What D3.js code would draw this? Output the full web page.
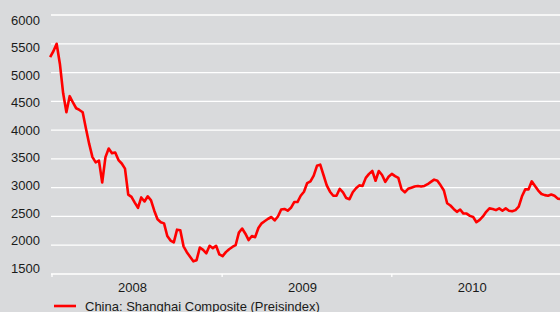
<!DOCTYPE html>
<html>
<head>
<meta charset="utf-8">
<script src="https://cdn.jsdelivr.net/npm/d3@7"></script>
<style>
  body { margin: 0; background: #d9dadc; }
  svg { display: block; font-family: "Liberation Sans", Arial, sans-serif; }
</style>
</head>
<body>
<script>
// weekly closes, first week ending 2007-12-28
var startDate = new Date(2007, 11, 28);
var values = [
  5270, 5370, 5500, 5150, 4640, 4310, 4590, 4480, 4380, 4350,
  4310, 4030, 3760, 3530, 3440, 3470, 3090, 3530, 3680, 3600,
  3610, 3480, 3420, 3330, 2880, 2840, 2740, 2650, 2830, 2760,
  2850, 2780, 2600, 2450, 2400, 2380, 2160, 2080, 2050, 2270,
  2260, 1980, 1880, 1800, 1720, 1740, 1960, 1920, 1860, 1990,
  1950, 1990, 1840, 1810, 1880, 1930, 1970, 2000, 2220, 2290,
  2200, 2090, 2160, 2140, 2300, 2380, 2420, 2460, 2490, 2430,
  2500, 2620, 2630, 2600, 2650, 2750, 2750, 2860, 2930, 3080,
  3110, 3210, 3380, 3400, 3220, 3040, 2930, 2860, 2860, 2980,
  2920, 2820, 2800, 2920, 2990, 3040, 3030, 3170, 3240, 3290,
  3120, 3290, 3220, 3100, 3190, 3240, 3200, 3170, 2970, 2920,
  2980, 3000, 3020, 3030, 3020, 3030, 3060, 3100, 3140, 3120,
  3040, 2950, 2730, 2690, 2630, 2580, 2620, 2550, 2550, 2510,
  2490, 2400, 2440, 2500, 2580, 2640, 2630, 2610, 2640, 2600,
  2640, 2600, 2590, 2610, 2670, 2850, 2970, 2970, 3110, 3030,
  2950, 2890, 2870, 2860, 2880, 2860, 2810, 2800
];
var yTicks = [1500, 2000, 2500, 3000, 3500, 4000, 4500, 5000, 5500, 6000];
var years = [2008, 2009, 2010];
var seriesName = "China: Shanghai Composite (Preisindex)";

var W = 560, H = 312;

var data = values.map(function(v, i) {
  return { date: d3.timeDay.offset(startDate, 7 * i), value: v };
});

var svg = d3.select("body").append("svg")
    .attr("width", W)
    .attr("height", H);

var xScale = d3.scaleTime()
    .domain([new Date(2008, 0, 1), new Date(2011, 0, 1)])
    .range([52, 561.5]);
var yScale = d3.scaleLinear()
    .domain([1500, 6000])
    .range([274, 15]);
// tick labels sit on a slightly tighter spacing than the grid
var yLabelScale = yScale.copy().range([268, 20]);

/*** gridlines ***/
svg.append("g")
  .selectAll("line")
  .data(yTicks)
  .enter().append("line")
    .attr("x1", 51)
    .attr("x2", W)
    .attr("y1", function(d) { return yScale(d); })
    .attr("y2", function(d) { return yScale(d); })
    .attr("stroke", "#ffffff")
    .attr("stroke-width", 1.3);

/*** year ticks on the baseline ***/
var yearStarts = years.map(function(y) { return new Date(y, 0, 1); });
svg.append("g")
  .selectAll("line")
  .data(yearStarts)
  .enter().append("line")
    .attr("x1", function(d) { return xScale(d); })
    .attr("x2", function(d) { return xScale(d); })
    .attr("y1", yScale(1500))
    .attr("y2", yScale(1500) + 3)
    .attr("stroke", "#ffffff")
    .attr("stroke-width", 1.3);

/*** y labels ***/
svg.append("g")
  .selectAll("text")
  .data(yTicks)
  .enter().append("text")
    .attr("x", 40)
    .attr("y", function(d) { return yLabelScale(d); })
    .attr("dy", "0.36em")
    .attr("text-anchor", "end")
    .attr("font-size", 13)
    .attr("fill", "#1a1a1a")
    .text(function(d) { return d; });

/*** year labels ***/
svg.append("g")
  .selectAll("text")
  .data(years)
  .enter().append("text")
    .attr("x", function(d) {
      return (xScale(new Date(d, 0, 1)) + xScale(new Date(d + 1, 0, 1))) / 2 - 4.5;
    })
    .attr("y", 292)
    .attr("text-anchor", "middle")
    .attr("font-size", 13)
    .attr("fill", "#1a1a1a")
    .text(function(d) { return d; });

/*** line ***/
var line = d3.line()
    .x(function(d) { return xScale(d.date); })
    .y(function(d) { return yScale(d.value); });

svg.append("path")
  .datum(data)
  .attr("d", line)
  .attr("fill", "none")
  .attr("stroke", "#ff0000")
  .attr("stroke-width", 2.6)
  .attr("stroke-linejoin", "round");

/*** legend ***/
var legend = svg.append("g").attr("transform", "translate(54,306)");
legend.append("line")
  .attr("x1", 0).attr("x2", 22)
  .attr("stroke", "#ff0000")
  .attr("stroke-width", 2.6);
legend.append("text")
  .attr("x", 31)
  .attr("dy", "0.36em")
  .attr("font-size", 13)
  .attr("fill", "#1a1a1a")
  .text(seriesName);
</script>
</body>
</html>
